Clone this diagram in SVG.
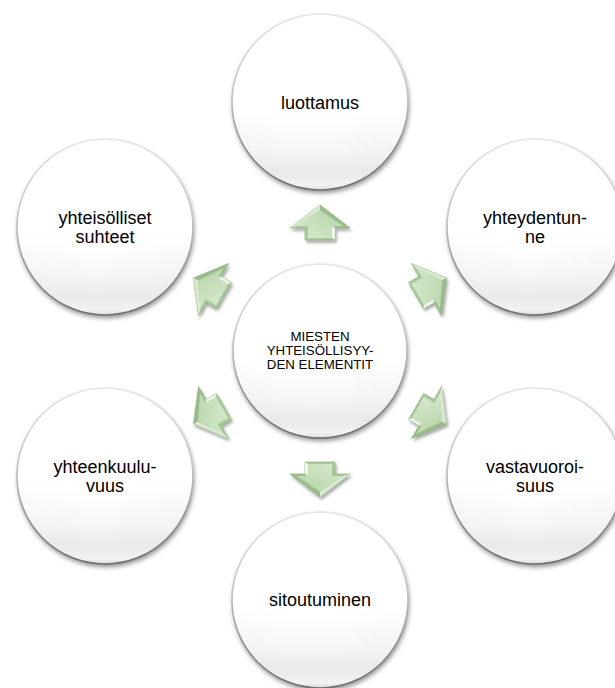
<svg xmlns="http://www.w3.org/2000/svg" xmlns:xlink="http://www.w3.org/1999/xlink" width="615" height="688" viewBox="0 0 615 688">
  <style>
    .lbl { font-family: "Liberation Sans", Arial, sans-serif; font-size: 18px; fill: #000; text-anchor: middle; }
    .clbl { font-family: "Liberation Sans", Arial, sans-serif; font-size: 13.3px; fill: #000; text-anchor: middle; }
    .shadow { fill: #000; opacity: 0.45; filter: url(#cblur); }
    .face { fill: url(#cfill); stroke: url(#crim); stroke-width: 1.6; }
    .gloss { fill: url(#cgloss); }
  </style>
  <defs>
    <filter id="cblur" x="-20%" y="-20%" width="140%" height="150%">
      <feGaussianBlur stdDeviation="2.5"/>
    </filter>
    <filter id="ashadow" x="-30%" y="-30%" width="160%" height="160%">
      <feDropShadow dx="1.5" dy="2.5" stdDeviation="1.8" flood-color="#000" flood-opacity="0.35"/>
    </filter>
    <linearGradient id="cfill" x1="0" y1="0" x2="0" y2="1">
      <stop offset="0" stop-color="#ffffff"/>
      <stop offset="0.55" stop-color="#ffffff"/>
      <stop offset="0.78" stop-color="#f3f3f3"/>
      <stop offset="0.9" stop-color="#e9e9e9"/>
      <stop offset="0.97" stop-color="#f2f2f2"/>
      <stop offset="1" stop-color="#dcdcdc"/>
    </linearGradient>
    <linearGradient id="crim" x1="0" y1="0" x2="0" y2="1">
      <stop offset="0" stop-color="#e6e6e6"/>
      <stop offset="0.45" stop-color="#c4c4c4"/>
      <stop offset="1" stop-color="#6e6e6e"/>
    </linearGradient>
    <radialGradient id="cgloss" cx="0.45" cy="0.38" r="0.55">
      <stop offset="0" stop-color="#ffffff" stop-opacity="1"/>
      <stop offset="1" stop-color="#ffffff" stop-opacity="0"/>
    </radialGradient>
    <linearGradient id="aouter" x1="0" y1="0" x2="1" y2="1">
      <stop offset="0" stop-color="#b4d3a5"/>
      <stop offset="1" stop-color="#8fb27f"/>
    </linearGradient>
    <linearGradient id="ainner" x1="0" y1="0" x2="1" y2="1">
      <stop offset="0" stop-color="#d9eacf"/>
      <stop offset="0.5" stop-color="#c6dfba"/>
      <stop offset="1" stop-color="#b3d1a5"/>
    </linearGradient>
    <g id="arrow">
      <path d="M111,-15 L123,-15 L123,-30 L146,0 L123,30 L123,15 L111,15 Z" fill="url(#aouter)" stroke="#88a97a" stroke-width="0.6" stroke-linejoin="round"/>
      <path d="M113,-12 L125,-12 L125,-23 L141,0 L125,23 L125,12 L113,12 Z" fill="url(#ainner)"/>
      <path d="M123,-30 L125,-23 L141,0 L146,0 Z" fill="#e3f0dc" opacity="0.85"/>
      <path d="M111,15 L113,12 L125,12 L123,15 Z" fill="#f6fbf3" opacity="0.9"/>
    </g>
  </defs>

  <rect width="615" height="688" fill="#ffffff"/>

  <g id="connectors">
    <g filter="url(#ashadow)"><use xlink:href="#arrow" transform="translate(320,351) rotate(-90)"/></g>
    <g filter="url(#ashadow)"><use xlink:href="#arrow" transform="translate(320,351) rotate(-30)"/></g>
    <g filter="url(#ashadow)"><use xlink:href="#arrow" transform="translate(320,351) rotate(30)"/></g>
    <g filter="url(#ashadow)"><use xlink:href="#arrow" transform="translate(320,351) rotate(90)"/></g>
    <g filter="url(#ashadow)"><use xlink:href="#arrow" transform="translate(320,351) rotate(150)"/></g>
    <g filter="url(#ashadow)"><use xlink:href="#arrow" transform="translate(320,351) rotate(210)"/></g>
  </g>

  <g id="node-center">
    <circle class="shadow" cx="321" cy="354" r="87"/>
    <circle class="face" cx="320" cy="351" r="87"/>
    <circle class="gloss" cx="320" cy="351" r="80"/>
    <text class="clbl" x="320" y="341">MIESTEN</text>
    <text class="clbl" x="320" y="355">YHTEISÖLLISYY-</text>
    <text class="clbl" x="320" y="369">DEN ELEMENTIT</text>
  </g>

  <g id="node-luottamus">
    <circle class="shadow" cx="321" cy="105" r="88"/>
    <circle class="face" cx="320" cy="102" r="88"/>
    <circle class="gloss" cx="320" cy="102" r="80"/>
    <text class="lbl" x="320" y="108.5">luottamus</text>
  </g>

  <g id="node-yhteydentunne">
    <circle class="shadow" cx="536" cy="230" r="88"/>
    <circle class="face" cx="535" cy="227" r="88"/>
    <circle class="gloss" cx="535" cy="227" r="80"/>
    <text class="lbl" x="535" y="224">yhteydentun-</text>
    <text class="lbl" x="535" y="243">ne</text>
  </g>

  <g id="node-vastavuoroisuus">
    <circle class="shadow" cx="536" cy="479" r="88"/>
    <circle class="face" cx="535" cy="476" r="88"/>
    <circle class="gloss" cx="535" cy="476" r="80"/>
    <text class="lbl" x="535" y="473">vastavuoroi-</text>
    <text class="lbl" x="535" y="492">suus</text>
  </g>

  <g id="node-sitoutuminen">
    <circle class="shadow" cx="321" cy="603" r="88"/>
    <circle class="face" cx="320" cy="600" r="88"/>
    <circle class="gloss" cx="320" cy="600" r="80"/>
    <text class="lbl" x="320" y="606">sitoutuminen</text>
  </g>

  <g id="node-yhteenkuuluvuus">
    <circle class="shadow" cx="106" cy="479" r="88"/>
    <circle class="face" cx="105" cy="476" r="88"/>
    <circle class="gloss" cx="105" cy="476" r="80"/>
    <text class="lbl" x="105" y="473">yhteenkuulu-</text>
    <text class="lbl" x="105" y="492">vuus</text>
  </g>

  <g id="node-yhteisolliset-suhteet">
    <circle class="shadow" cx="106" cy="230" r="88"/>
    <circle class="face" cx="105" cy="227" r="88"/>
    <circle class="gloss" cx="105" cy="227" r="80"/>
    <text class="lbl" x="105" y="224">yhteisölliset</text>
    <text class="lbl" x="105" y="243">suhteet</text>
  </g>
</svg>
